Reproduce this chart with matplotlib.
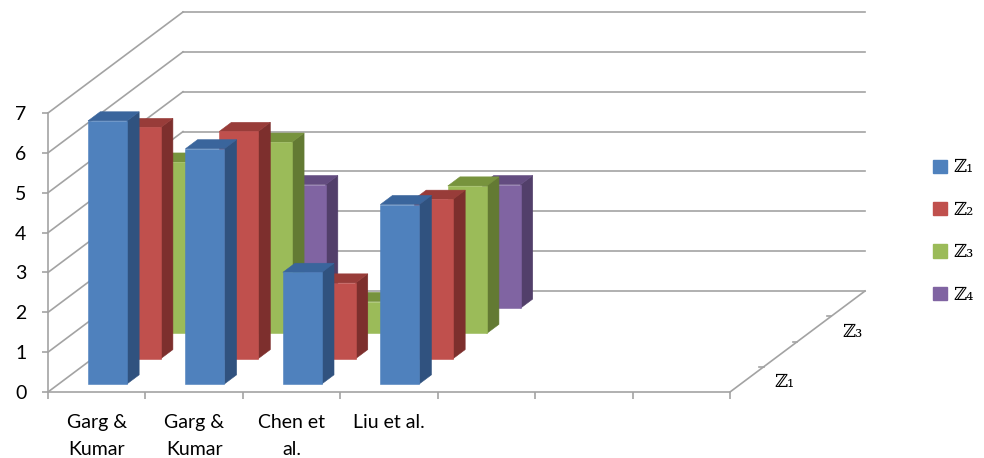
import numpy as np
import matplotlib.pyplot as plt
from matplotlib.patches import Polygon, Patch

# categories along the front axis (last three slots are empty)
categories = ["Garg &\nKumar", "Garg &\nKumar", "Chen et\nal.", "Liu et al.", "", "", ""]
series = ["\u2124\u2081", "\u2124\u2082", "\u2124\u2083", "\u2124\u2084"]

z1 = [6.6, 5.9, 2.8, 4.5]
z2 = [5.8, 5.7, 1.9, 4.0]
z3 = [4.3, 4.8, 0.8, 3.7]
z4 = [np.nan, 3.1, np.nan, 3.1]
values = [z1, z2, z3, z4]

front_cols = ["#4F81BD", "#C0504D", "#9BBB59", "#8064A2"]
top_cols = ["#3A659C", "#983C39", "#77933D", "#634C80"]
side_cols = ["#30527F", "#7D2F2D", "#637A33", "#523F6A"]

grid_col = "#A3A3A3"
z_font = ["DejaVu Serif", "DejaVu Sans"]

# oblique offset of one depth slot, in (category, value) units
kx, ky = 0.3464, 0.6335
n_depth = len(series)
n_cat = len(categories)
bar_w = 0.4
bar_d = 0.36

fig = plt.figure(figsize=(9.84, 4.58), dpi=100)
ax = fig.add_axes([48 / 984, 66 / 458, 682 / 984, 279 / 458])
ax.set_xlim(0, n_cat)
ax.set_ylim(0, 7)

def proj(x, v, d):
    return (x + d * kx, v + d * ky)

# back wall, left wall and floor lines
D = n_depth
for v in range(8):
    a = proj(0, v, D)
    b = proj(n_cat, v, D)
    ax.plot([a[0], b[0]], [a[1], b[1]], color=grid_col, lw=1.2, clip_on=False, zorder=1)
    ax.plot([0, a[0]], [v, a[1]], color=grid_col, lw=1.2, clip_on=False, zorder=1)
e = proj(n_cat, 0, D)
ax.plot([n_cat, e[0]], [0, e[1]], color=grid_col, lw=1.2, clip_on=False, zorder=1)
for d in range(1, D):
    p = proj(n_cat, 0, d)
    ax.plot([p[0] - 0.045, p[0]], [p[1], p[1]], color=grid_col, lw=1.2, clip_on=False, zorder=1)

# depth axis labels (every other series)
for i, name in enumerate(series):
    if i % 2:
        continue
    p = proj(n_cat, 0, i + 0.5)
    ax.text(p[0] + 0.39, p[1] - 0.07, name, fontsize=13, ha="center", va="center",
            family=z_font, color="black")

# 3D columns, drawn back to front
z = 2
for s in reversed(range(n_depth)):
    for c, v in enumerate(values[s]):
        if np.isnan(v):
            continue
        x0 = c + (1 - bar_w) / 2
        x1 = x0 + bar_w
        d0 = s + (1 - bar_d) / 2
        d1 = d0 + bar_d
        front = [proj(x0, 0, d0), proj(x1, 0, d0), proj(x1, v, d0), proj(x0, v, d0)]
        side = [proj(x1, 0, d0), proj(x1, 0, d1), proj(x1, v, d1), proj(x1, v, d0)]
        top = [proj(x0, v, d0), proj(x1, v, d0), proj(x1, v, d1), proj(x0, v, d1)]
        for pts, col in ((side, side_cols[s]), (top, top_cols[s]), (front, front_cols[s])):
            ax.add_patch(Polygon(pts, closed=True, facecolor=col, edgecolor=col,
                                 lw=0.4, clip_on=False, zorder=z))
        z += 1

# front axes
for sp in ["top", "right"]:
    ax.spines[sp].set_visible(False)
for sp in ["left", "bottom"]:
    ax.spines[sp].set_color(grid_col)
    ax.spines[sp].set_linewidth(1.2)
    ax.spines[sp].set_zorder(1)

ax.set_yticks(range(8))
ax.set_yticklabels([str(v) for v in range(8)])
ax.tick_params(axis="y", length=4.5, width=1.2, color=grid_col, pad=11,
               labelsize=14, labelcolor="black")
for lab in ax.get_yticklabels():
    lab.set_family(["Lato", "DejaVu Sans"])

ax.set_xticks(range(n_cat + 1))
ax.set_xticklabels([])
ax.tick_params(axis="x", which="major", length=5, width=1.2, color=grid_col)
ax.set_xticks(np.arange(n_cat) + 0.5, minor=True)
ax.set_xticklabels(categories, minor=True)
ax.tick_params(axis="x", which="minor", length=0, pad=16, labelsize=14, labelcolor="black")
for lab in ax.get_xticklabels(minor=True):
    lab.set_family(["Lato", "DejaVu Sans"])
    lab.set_linespacing(1.7)

handles = [Patch(facecolor=front_cols[i], edgecolor=front_cols[i], label=series[i])
           for i in range(n_depth)]
leg = fig.legend(handles=handles, loc="center left", bbox_to_anchor=(933 / 984, 1 - 231 / 458),
                 frameon=False, fontsize=13, handlelength=0.75, handleheight=0.75,
                 handletextpad=0.4, labelspacing=1.35, borderpad=0, borderaxespad=0)
for t in leg.get_texts():
    t.set_family(z_font)
    t.set_color("black")

fig.savefig("out.png", dpi=100)
